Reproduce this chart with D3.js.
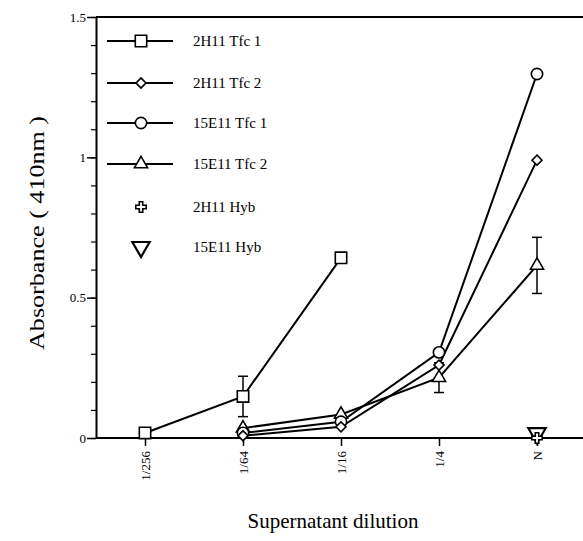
<!DOCTYPE html>
<html>
<head>
<meta charset="utf-8">
<script src="https://cdn.jsdelivr.net/npm/d3@7"></script>
<style>
  body { margin: 0; background: #fff; }
  text { font-family: "Liberation Serif", "Times New Roman", serif; fill: #000; }
</style>
</head>
<body>
<script>
// dilution categories along the x axis
var dilutions = ['1/256', '1/64', '1/16', '1/4', 'N'];

// absorbance at 410nm per series (null = not measured)
var tfc1_2h11  = [0.018, 0.148, 0.642, null, null];
var tfc2_2h11  = [null, 0.008, 0.04, 0.26, 0.99];
var tfc1_15e11 = [null, 0.018, 0.058, 0.305, 1.297];
var tfc2_15e11 = [null, 0.035, 0.084, 0.215, 0.615];
var hyb_2h11   = [null, null, null, null, 0.0];
var hyb_15e11  = [null, null, null, null, 0.01];

// error bars (+/-) where the figure shows them
var err_2h11_tfc1  = [null, 0.072, null, null, null];
var err_15e11_tfc2 = [null, null, null, 0.053, 0.1];

var y_ticks = [0, 0.5, 1, 1.5];
var y_tick_labels = ['0', '0.5', '1', '1.5'];

var width = 583, height = 541;
var plot_left = 96, plot_right = 583, plot_top = 17, plot_bottom = 438;

var svg = d3.select('body').append('svg').attr('width', width).attr('height', height);

var x_scale = d3.scalePoint().domain(dilutions).range([145, 537]);
var y_scale = d3.scaleLinear().domain([0, 1.5]).range([plot_bottom, plot_top]);

// series definitions (symbol + whether a connecting line is drawn)
var series = [
  {name: '2H11 Tfc 1',  values: tfc1_2h11,  err: err_2h11_tfc1,  symbol: d3.symbolSquare,   size: 130, line: true},
  {name: '2H11 Tfc 2',  values: tfc2_2h11,  err: null,           symbol: d3.symbolSquare,   size: 50,  line: true, rot: 45},
  {name: '15E11 Tfc 1', values: tfc1_15e11, err: null,           symbol: d3.symbolCircle,   size: 100, line: true},
  {name: '15E11 Tfc 2', values: tfc2_15e11, err: err_15e11_tfc2, symbol: d3.symbolTriangle, size: 75,  line: true},
  {name: '2H11 Hyb',    values: hyb_2h11,   err: null,           symbol: d3.symbolCross,    size: 60,  line: false},
  {name: '15E11 Hyb',   values: hyb_15e11,  err: null,           symbol: d3.symbolTriangle, size: 130, line: false, rot: 180}
];

// top frame line
svg.append('line').attr('x1', plot_left).attr('x2', plot_right).attr('y1', plot_top).attr('y2', plot_top)
  .attr('stroke', '#000').attr('stroke-width', 2);

// minor y ticks every 0.1
var minor_axis = svg.append('g').attr('transform', 'translate(' + plot_left + ',0)')
  .call(d3.axisLeft(y_scale).tickValues(d3.range(0, 16).map(d => d / 10)).tickSize(5).tickFormat(''));
minor_axis.select('.domain').remove();
minor_axis.selectAll('line').attr('stroke-width', 1.2);

// major y axis
var y_axis = svg.append('g').attr('transform', 'translate(' + plot_left + ',0)')
  .call(d3.axisLeft(y_scale).tickValues(y_ticks).tickSize(9).tickSizeOuter(0)
    .tickFormat((d, i) => y_tick_labels[i]));
y_axis.select('.domain').attr('stroke-width', 2);
y_axis.selectAll('line').attr('stroke-width', 1.5);
y_axis.selectAll('text').style('font-size', '13px').attr('x', -10);

// x axis
var x_axis = svg.append('g').attr('transform', 'translate(0,' + plot_bottom + ')')
  .call(d3.axisBottom(x_scale).tickSize(8).tickSizeOuter(0));
x_axis.select('.domain').attr('d', 'M' + plot_left + ',0H' + plot_right).attr('stroke-width', 2);
x_axis.selectAll('line').attr('stroke-width', 1.5);
x_axis.selectAll('text').style('font-size', '13px')
  .attr('transform', 'rotate(-90)').attr('text-anchor', 'end')
  .attr('x', -13).attr('y', 0).attr('dy', '0.35em');

// axis titles
svg.append('text').attr('transform', 'translate(44,233) rotate(-90)')
  .attr('text-anchor', 'middle').style('font-size', '20px')
  .attr('textLength', 234).attr('lengthAdjust', 'spacingAndGlyphs')
  .text('Absorbance ( 410nm )');
svg.append('text').attr('x', 333).attr('y', 528)
  .attr('text-anchor', 'middle').style('font-size', '21px').text('Supernatant dilution');

var plot = svg.append('g');

function points_of(s)  {
  var pts = [];
  for(var i = 0; i < s.values.length; i++)
    if(s.values[i] != null) pts.push({cat: dilutions[i], v: s.values[i], e: s.err ? s.err[i] : null});
  return pts;
}

var line_gen = d3.line().x(d => x_scale(d.cat)).y(d => y_scale(d.v));

// connecting lines
series.forEach(function(s)  {
  if(!s.line) return;
  plot.append('path').attr('d', line_gen(points_of(s)))
    .attr('fill', 'none').attr('stroke', '#000').attr('stroke-width', 2);
});

// error bars
series.forEach(function(s)  {
  points_of(s).forEach(function(p)  {
    if(p.e == null) return;
    var x = x_scale(p.cat);
    [p.v + p.e, p.v - p.e].forEach(function(end)  {
      plot.append('line').attr('x1', x).attr('x2', x).attr('y1', y_scale(p.v)).attr('y2', y_scale(end))
        .attr('stroke', '#000').attr('stroke-width', 1.5);
      plot.append('line').attr('x1', x - 5).attr('x2', x + 5).attr('y1', y_scale(end)).attr('y2', y_scale(end))
        .attr('stroke', '#000').attr('stroke-width', 1.5);
    });
  });
});

function draw_symbol(g, s, x, y)  {
  g.append('path').attr('d', d3.symbol().type(s.symbol).size(s.size)())
    .attr('transform', 'translate(' + x + ',' + y + ')' + (s.rot ? ' rotate(' + s.rot + ')' : ''))
    .attr('fill', '#fff').attr('stroke', '#000').attr('stroke-width', s.rot == 180 ? 2.2 : 1.6);
}

// markers (later series first so squares/diamonds end up on top)
series.slice().reverse().forEach(function(s)  {
  points_of(s).forEach(function(p)  {
    var y = y_scale(p.v);
    if(s.rot == 180) y -= 2;
    draw_symbol(plot, s, x_scale(p.cat), y);
  });
});

// legend
var legend_rows = [41, 83, 123, 164, 207, 247];
var legend = svg.append('g');
series.forEach(function(s, i)  {
  var y = legend_rows[i];
  if(s.line)
    legend.append('line').attr('x1', 107).attr('x2', 173).attr('y1', y).attr('y2', y)
      .attr('stroke', '#000').attr('stroke-width', 2);
  draw_symbol(legend, s, 141, y);
  legend.append('text').attr('x', 193).attr('y', y + 5).style('font-size', '15px').text(s.name);
});
</script>
</body>
</html>
